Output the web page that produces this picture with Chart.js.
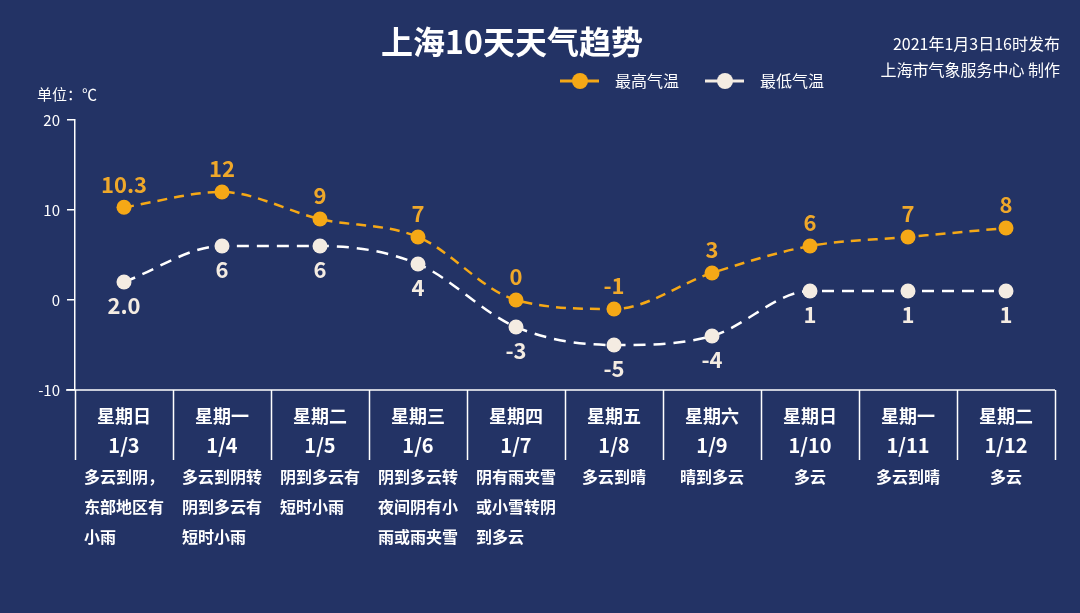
<!DOCTYPE html>
<html><head><meta charset="utf-8">
<script src="https://cdn.jsdelivr.net/npm/chart.js@4/dist/chart.umd.min.js"></script>
<style>html,body{margin:0;padding:0;background:#233365;overflow:hidden}</style>
</head><body>
<canvas id="c" width="1080" height="613" style="width:1080px;height:613px;display:block"></canvas>
<script>
const weekdays = ['星期日','星期一','星期二','星期三','星期四','星期五','星期六','星期日','星期一','星期二'];
const dates = ['1/3','1/4','1/5','1/6','1/7','1/8','1/9','1/10','1/11','1/12'];
const weather = [
  ['多云到阴，','东部地区有','小雨'],
  ['多云到阴转','阴到多云有','短时小雨'],
  ['阴到多云有','短时小雨'],
  ['阴到多云转','夜间阴有小','雨或雨夹雪'],
  ['阴有雨夹雪','或小雪转阴','到多云'],
  ['多云到晴'],
  ['晴到多云'],
  ['多云'],
  ['多云到晴'],
  ['多云']
];
const highTemps = [10.3, 12, 9, 7, 0, -1, 3, 6, 7, 8];
const lowTemps = [2, 6, 6, 4, -3, -5, -4, 1, 1, 1];
const highLabels = ['10.3','12','9','7','0','-1','3','6','7','8'];
const lowLabels = ['2.0','6','6','4','-3','-5','-4','1','1','1'];
const yMin = -10, yMax = 20, yStep = 10;

const FONT = '"Noto Sans CJK SC","Microsoft YaHei",sans-serif';
const BG = '#233365';
const ORANGE = '#F5A816';
const ORANGE_TXT = '#EFA82A';
const CREAM = '#F4ECE2';

const deco = {
  id: 'deco',
  beforeDraw(chart) {
    const ctx = chart.ctx;
    ctx.save();
    ctx.fillStyle = BG;
    ctx.fillRect(0, 0, chart.width, chart.height);
    ctx.restore();
  },
  afterDraw(chart) {
    const ctx = chart.ctx;
    const a = chart.chartArea;
    const xs = chart.scales.x;
    const n = weekdays.length;
    const cw = (a.right - a.left) / n;
    ctx.save();
    ctx.strokeStyle = '#ffffff';
    ctx.lineWidth = 1.5;
    ctx.beginPath();
    ctx.moveTo(a.left - 9, a.bottom);
    ctx.lineTo(a.right, a.bottom);
    for (let i = 0; i <= n; i++) {
      const x = Math.round(a.left + i * cw) + 0.5;
      ctx.moveTo(x, a.bottom);
      ctx.lineTo(x, a.bottom + 70);
    }
    ctx.stroke();
    ctx.fillStyle = '#ffffff';
    ctx.textBaseline = 'middle';
    for (let i = 0; i < n; i++) {
      const cx = xs.getPixelForValue(i);
      ctx.textAlign = 'center';
      ctx.font = 'bold 18px ' + FONT;
      ctx.fillText(weekdays[i], cx, a.bottom + 26);
      ctx.font = 'bold 20px ' + FONT;
      ctx.fillText(dates[i], cx, a.bottom + 55);
      ctx.font = 'bold 16px ' + FONT;
      const lines = weather[i];
      let mw = 0;
      lines.forEach(l => { mw = Math.max(mw, ctx.measureText(l).width); });
      ctx.textAlign = 'left';
      lines.forEach((l, k) => {
        ctx.fillText(l, cx - mw / 2, a.bottom + 87 + k * 30);
      });
    }
    const mh = chart.getDatasetMeta(0).data;
    const ml = chart.getDatasetMeta(1).data;
    ctx.textAlign = 'center';
    ctx.font = 'bold 22px ' + FONT;
    ctx.fillStyle = ORANGE_TXT;
    mh.forEach((p, i) => ctx.fillText(highLabels[i], p.x, p.y - 23));
    ctx.fillStyle = CREAM;
    ml.forEach((p, i) => ctx.fillText(lowLabels[i], p.x, p.y + 24));
    ctx.fillStyle = '#ffffff';
    ctx.font = 'bold 32px ' + FONT;
    ctx.fillText('上海10天天气趋势', 512, 42);
    ctx.textAlign = 'right';
    ctx.font = '16px ' + FONT;
    ctx.fillText('2021年1月3日16时发布', 1060, 44);
    ctx.fillText('上海市气象服务中心 制作', 1060, 70);
    ctx.textAlign = 'left';
    ctx.font = '15px ' + FONT;
    ctx.fillText('单位：℃', 37, 94);
    const leg = [[560, ORANGE, '最高气温'], [705, CREAM, '最低气温']];
    leg.forEach(([x, c, t]) => {
      ctx.strokeStyle = c;
      ctx.lineWidth = 3;
      ctx.beginPath();
      ctx.moveTo(x, 81); ctx.lineTo(x + 39, 81);
      ctx.stroke();
      ctx.fillStyle = c;
      ctx.beginPath();
      ctx.arc(x + 20, 81, 8, 0, Math.PI * 2);
      ctx.fill();
      ctx.fillStyle = '#ffffff';
      ctx.font = '16px ' + FONT;
      ctx.fillText(t, x + 55, 81);
    });
    ctx.restore();
  }
};

new Chart(document.getElementById('c'), {
  type: 'line',
  data: {
    labels: dates,
    datasets: [
      {
        label: '最高气温', data: highTemps,
        borderColor: ORANGE, backgroundColor: ORANGE,
        pointBackgroundColor: ORANGE, pointBorderColor: ORANGE,
        borderWidth: 2.5, borderDash: [10, 7], pointRadius: 7.5, pointBorderWidth: 0,
        cubicInterpolationMode: 'monotone', fill: false
      },
      {
        label: '最低气温', data: lowTemps,
        borderColor: '#ffffff', backgroundColor: CREAM,
        pointBackgroundColor: CREAM, pointBorderColor: CREAM,
        borderWidth: 2.5, borderDash: [12, 8], pointRadius: 7.5, pointBorderWidth: 0,
        cubicInterpolationMode: 'monotone', fill: false
      }
    ]
  },
  options: {
    responsive: false,
    animation: false,
    devicePixelRatio: 1,
    layout: { padding: { left: 0, right: 25, top: 120, bottom: 223 } },
    plugins: { legend: { display: false }, tooltip: { enabled: false }, title: { display: false } },
    scales: {
      x: { display: false, offset: true },
      y: {
        min: yMin, max: yMax,
        afterFit(s) { s.width = 75; },
        ticks: { stepSize: yStep, color: '#ffffff', font: { size: 15, family: FONT }, padding: 7 },
        border: { color: '#ffffff', width: 1.5 },
        grid: { drawOnChartArea: false, drawTicks: true, tickLength: 8, color: '#ffffff', lineWidth: 1.5 }
      }
    }
  },
  plugins: [deco]
});
</script>
</body></html>
